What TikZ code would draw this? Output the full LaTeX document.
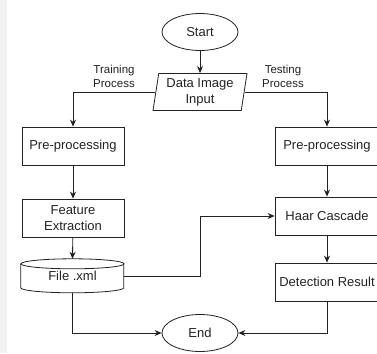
\documentclass[tikz,border=0pt]{standalone}
\usepackage{fontspec}
\setmainfont{Liberation Sans}
\usetikzlibrary{shapes.geometric,arrows.meta}
\definecolor{ink}{HTML}{222222}
\definecolor{strip}{HTML}{F2F2F2}
\begin{document}
\begin{tikzpicture}[x=1pt,y=1pt,
  every node/.style={text=ink},
  line/.style={draw=ink,line width=0.8pt},
  arrow/.style={line,-{Stealth[length=7pt,width=6pt]}},
  procbox/.style={rectangle,draw=ink,line width=0.8pt,minimum width=102pt,minimum height=38pt,align=center,inner sep=1pt,font=\fontsize{13}{16}\selectfont},
  terminal/.style={ellipse,draw=ink,line width=0.8pt,minimum width=76pt,minimum height=37pt,inner sep=0pt,font=\fontsize{13}{16}\selectfont},
  iobox/.style={trapezium,trapezium left angle=79,trapezium right angle=101,trapezium stretches body,draw=ink,line width=0.8pt,minimum width=94pt,minimum height=37pt,align=center,inner sep=1pt,font=\fontsize{13}{16}\selectfont},
  branchlabel/.style={align=center,inner sep=0pt,font=\fontsize{11.5}{14}\selectfont}]
\useasboundingbox (0,0) rectangle (377,-353);
\fill[strip] (0,0) rectangle (7,-353);
% nodes
\node[terminal] (start) at (200,-32) {Start};
\node[iobox] (input) at (200,-92) {Data Image\\Input};
\node[branchlabel] (ltrain) at (114,-76) {Training\\Process};
\node[branchlabel] (ltest) at (283,-76) {Testing\\Process};
\node[procbox] (lpre) at (73,-146) {Pre-processing};
\node[procbox] (lfeat) at (73,-218) {Feature\\Extraction};
\node[draw=none,minimum width=103pt,minimum height=34pt,inner sep=0pt,font=\fontsize{13}{16}\selectfont] (file) at (72.5,-276) {File .xml};
\node[procbox,minimum width=104pt] (rpre) at (327,-146) {Pre-processing};
\node[procbox,minimum width=104pt] (haar) at (327,-216) {Haar Cascade};
\node[procbox,minimum width=104pt] (det) at (327,-282) {Detection Result};
\node[terminal] (end) at (200,-333) {End};
% cylinder outline for file
\draw[line] (file.north west) ++(0,-5) -- ++(0,-24)
  arc[start angle=180,end angle=360,x radius=51.5pt,y radius=5pt] -- ++(0,24);
\draw[line] ([yshift=-5pt]file.north) ellipse [x radius=51.5pt,y radius=5pt];
% connectors
\draw[arrow] (start) -- (input);
\draw[arrow] (input.left side) -| (lpre.north);
\draw[arrow] (input.right side) -| (rpre.north);
\draw[arrow] (lpre) -- (lfeat);
\draw[arrow] (lfeat) -- (file.north);
\coordinate (bend) at (200,-276);
\draw[arrow] (file.east) -- (bend) |- (haar.west);
\draw[arrow] (rpre) -- (haar);
\draw[arrow] (haar) -- (det);
\draw[arrow] (file.south) |- (end.west);
\draw[arrow] (det.south) |- (end.east);
\end{tikzpicture}
\end{document}
